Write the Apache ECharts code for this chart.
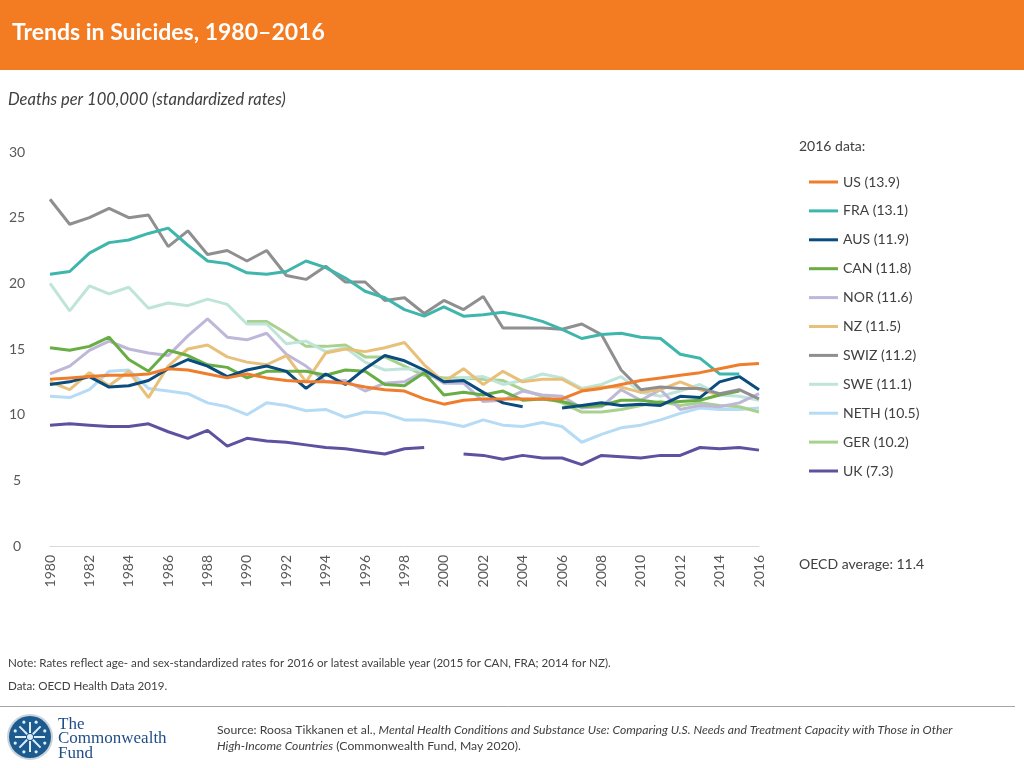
<!DOCTYPE html>
<html>
<head>
<meta charset="utf-8">
<script src="https://cdn.jsdelivr.net/npm/echarts@6/dist/echarts.min.js"></script>
<style>
html,body{margin:0;padding:0;background:#fff;}
#chart{width:1024px;height:768px;}
</style>
</head>
<body>
<div id="chart"></div>
<script>
const years = [];
for (let y = 1980; y <= 2016; y++) years.push(String(y));

const US   = [12.7,12.8,12.9,13.0,13.0,13.1,13.5,13.4,13.1,12.8,13.1,12.8,12.6,12.5,12.5,12.4,12.1,11.9,11.8,11.2,10.8,11.1,11.2,11.2,11.2,11.2,11.2,11.8,12.0,12.3,12.6,12.8,13.0,13.2,13.5,13.8,13.9];
const FRA  = [20.7,20.9,22.3,23.1,23.3,23.8,24.2,22.9,21.7,21.5,20.8,20.7,20.9,21.7,21.2,20.4,19.4,18.9,18.0,17.5,18.2,17.5,17.6,17.8,17.5,17.1,16.5,15.8,16.1,16.2,15.9,15.8,14.6,14.3,13.1,13.1,null];
const AUS  = [12.3,12.5,12.9,12.1,12.2,12.6,13.5,14.2,13.7,12.9,13.4,13.7,13.3,12.0,13.1,12.3,13.5,14.5,14.1,13.4,12.5,12.6,11.7,10.9,10.6,null,10.5,10.7,10.9,10.7,10.8,10.7,11.4,11.3,12.5,12.9,11.9];
const CAN  = [15.1,14.9,15.2,15.9,14.2,13.3,14.9,14.5,13.8,13.6,12.8,13.3,13.3,13.3,13.0,13.4,13.3,12.3,12.2,13.2,11.5,11.7,11.5,11.8,11.1,11.2,11.0,10.6,10.7,11.1,11.1,10.9,11.0,11.1,11.5,11.8,null];
const NOR  = [13.1,13.7,14.9,15.6,15.0,14.7,14.5,16.0,17.3,15.9,15.7,16.2,14.6,13.7,12.5,12.6,11.8,12.4,12.5,13.3,12.4,12.4,11.0,11.1,11.8,11.5,11.4,10.5,10.6,11.9,11.1,11.9,10.4,10.7,10.6,10.9,11.6];
const NZ   = [12.5,11.9,13.2,12.2,13.3,11.3,13.7,15.0,15.3,14.4,14.0,13.8,14.5,12.5,14.7,15.0,14.8,15.1,15.5,13.8,12.5,13.5,12.3,13.3,12.5,12.7,12.7,11.9,12.1,12.1,11.7,11.9,12.5,11.9,11.5,null,null];
const SWIZ = [26.4,24.5,25.0,25.7,25.0,25.2,22.8,24.0,22.2,22.5,21.7,22.5,20.6,20.3,21.3,20.1,20.1,18.7,18.9,17.7,18.7,18.0,19.0,16.6,16.6,16.6,16.5,16.9,16.1,13.4,11.9,12.1,12.0,12.0,11.6,11.9,11.2];
const SWE  = [20.0,17.9,19.8,19.2,19.7,18.1,18.5,18.3,18.8,18.4,16.9,16.9,15.4,15.6,14.8,15.1,14.0,13.4,13.5,13.4,12.6,12.8,12.9,12.3,12.6,13.1,12.8,12.0,12.3,12.9,11.7,11.4,11.8,12.3,11.5,11.4,11.1];
const NETH = [11.4,11.3,11.9,13.3,13.4,12.0,11.8,11.6,10.9,10.6,10.0,10.9,10.7,10.3,10.4,9.8,10.2,10.1,9.6,9.6,9.4,9.1,9.6,9.2,9.1,9.4,9.1,7.9,8.5,9.0,9.2,9.6,10.1,10.5,10.4,10.4,10.5];
const GER  = [null,null,null,null,null,null,null,null,null,null,17.1,17.1,16.2,15.2,15.2,15.3,14.4,14.4,13.7,13.0,12.8,12.8,12.7,12.6,11.9,11.4,10.9,10.2,10.2,10.4,10.7,11.0,10.7,10.9,10.7,10.6,10.2];
const UK   = [9.2,9.3,9.2,9.1,9.1,9.3,8.7,8.2,8.8,7.6,8.2,8.0,7.9,7.7,7.5,7.4,7.2,7.0,7.4,7.5,null,7.0,6.9,6.6,6.9,6.7,6.7,6.2,6.9,6.8,6.7,6.9,6.9,7.5,7.4,7.5,7.3];

const seriesNames = ['US (13.9)','FRA (13.1)','AUS (11.9)','CAN (11.8)','NOR (11.6)','NZ (11.5)','SWIZ (11.2)','SWE (11.1)','NETH (10.5)','GER (10.2)','UK (7.3)'];
const seriesData  = [US, FRA, AUS, CAN, NOR, NZ, SWIZ, SWE, NETH, GER, UK];
const seriesColors = ['#EE7D2C','#3FB6AC','#0A4C7D','#69AD45','#BEB7DA','#E8C07A','#8F8F91','#BFE4DA','#B6DBF5','#A8D18E','#5F519F'];

const yTicks = [0, 5, 10, 15, 20, 25, 30];

const FONT = 'Lato, "Open Sans", sans-serif';
const chart = echarts.init(document.getElementById('chart'), null, {renderer: 'canvas'});

// draw order: later series on top
const drawOrder = [10, 8, 9, 7, 4, 5, 3, 2, 6, 1, 0];
const series = drawOrder.map(i => ({
  name: seriesNames[i],
  type: 'line',
  data: seriesData[i],
  symbol: 'none',
  showSymbol: false,
  connectNulls: false,
  lineStyle: {width: 3, color: seriesColors[i]},
  itemStyle: {color: seriesColors[i]},
  z: 2 + drawOrder.indexOf(i) * 0.01
}));

// snowflake lines for the logo
const flake = [];
for (let k = 0; k < 8; k++) {
  const a = k * Math.PI / 4;
  flake.push({
    type: 'line',
    shape: {x1: 30 + 4 * Math.cos(a), y1: 737 + 4 * Math.sin(a), x2: 30 + 15 * Math.cos(a), y2: 737 + 15 * Math.sin(a)},
    style: {stroke: '#DDEFFA', lineWidth: 2}
  });
  flake.push({
    type: 'circle',
    shape: {cx: 30 + 16 * Math.cos(a + Math.PI / 8), cy: 737 + 16 * Math.sin(a + Math.PI / 8), r: 1.6},
    style: {fill: '#DDEFFA'}
  });
}

chart.setOption({
  animation: false,
  textStyle: {fontFamily: FONT},
  grid: {left: 50, right: 265, top: 152, bottom: 222, containLabel: false},
  xAxis: {
    type: 'category',
    data: years,
    boundaryGap: false,
    axisLine: {show: true, lineStyle: {color: '#D9D9D9', width: 1}},
    axisTick: {show: false},
    axisLabel: {interval: 1, rotate: 90, margin: 9, fontSize: 14, color: '#595959', fontFamily: FONT}
  },
  yAxis: {
    type: 'value',
    min: yTicks[0],
    max: yTicks[yTicks.length - 1],
    interval: 5,
    axisLine: {show: false},
    axisTick: {show: false},
    splitLine: {show: false},
    axisLabel: {margin: 33, align: 'center', fontSize: 14, color: '#595959', fontFamily: FONT}
  },
  legend: {
    data: seriesNames,
    orient: 'vertical',
    left: 804,
    top: 169,
    icon: 'rect',
    itemWidth: 29,
    itemHeight: 3,
    itemGap: 12.9,
    textStyle: {fontSize: 14, color: '#404040', lineHeight: 16, fontFamily: FONT},
    selectedMode: false
  },
  series: series,
  graphic: [
    {type: 'rect', left: 0, top: 0, shape: {width: 1024, height: 70}, style: {fill: '#F37B22'}, silent: true},
    {type: 'text', left: 12, top: 21, style: {text: 'Trends in Suicides, 1980–2016', fill: '#ffffff', font: 'bold 23px ' + FONT}},
    {type: 'text', left: 8, top: 91, style: {text: 'Deaths per 100,000 (standardized rates)', fill: '#404040', font: 'italic 16.5px ' + FONT}},
    {type: 'text', left: 799, top: 139, style: {text: '2016 data:', fill: '#404040', font: '14px ' + FONT}},
    {type: 'text', left: 799, top: 557, style: {text: 'OECD average: 11.4', fill: '#404040', font: '14px ' + FONT}},
    {type: 'text', left: 8, top: 657, style: {text: 'Note: Rates reflect age- and sex-standardized rates for 2016 or latest available year (2015 for CAN, FRA; 2014 for NZ).', fill: '#404040', font: '11.6px ' + FONT}},
    {type: 'text', left: 8, top: 680, style: {text: 'Data: OECD Health Data 2019.', fill: '#404040', font: '11.6px ' + FONT}},
    {type: 'line', shape: {x1: 0, y1: 706.5, x2: 1015, y2: 706.5}, style: {stroke: '#A6A6A6', lineWidth: 1}},
    {type: 'circle', shape: {cx: 30, cy: 737, r: 23}, style: {fill: '#C9D3DC'}},
    {type: 'circle', shape: {cx: 30, cy: 737, r: 21}, style: {fill: '#1D5A8E'}},
    {type: 'group', children: flake},
    {type: 'circle', shape: {cx: 30, cy: 737, r: 3}, style: {fill: '#DDEFFA'}},
    {type: 'text', left: 58, top: 716, style: {text: 'The\nCommonwealth\nFund', fill: '#1F4E86', font: '17px "Liberation Serif", "DejaVu Serif", serif', lineHeight: 14.5}},
    {type: 'text', left: 217, top: 722, style: {
      text: 'Source: Roosa Tikkanen et al., {i|Mental Health Conditions and Substance Use: Comparing U.S. Needs and Treatment Capacity with Those in Other}\n{i|High-Income Countries} (Commonwealth Fund, May 2020).',
      fill: '#404040', font: '12.2px ' + FONT, lineHeight: 16,
      rich: {i: {fontStyle: 'italic', fontSize: 12.2, fill: '#404040', fontFamily: FONT, lineHeight: 16}}
    }}
  ]
});
</script>
</body>
</html>
